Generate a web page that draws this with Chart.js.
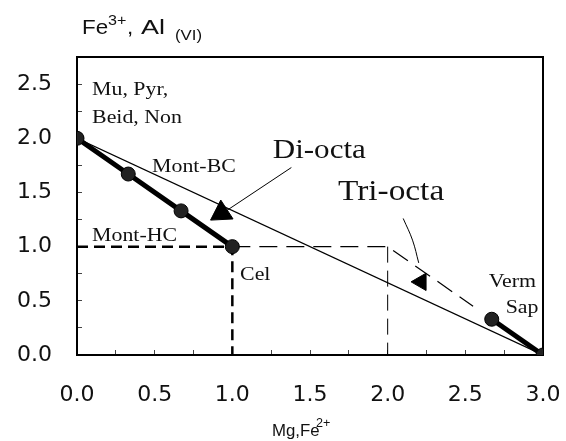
<!DOCTYPE html>
<html>
<head>
<meta charset="utf-8">
<script src="https://cdn.jsdelivr.net/npm/chart.js@4"></script>
<style>
  body { margin: 0; background: #fff; }
  canvas { display: block; }
</style>
</head>
<body>
<canvas id="chart" width="566" height="441"></canvas>
<script>
// dioctahedral series (thick line with dots)
const diX = [0.0, 0.33, 0.67, 1.0];
const diY = [2.0, 1.67, 1.33, 1.0];
// trioctahedral end (Verm, Sap)
const triX = [2.67, 3.0];
const triY = [0.33, 0.0];
// thin ideal line
const idealX = [0.0, 3.0];
const idealY = [2.0, 0.0];
// thick dashed Mont-HC / Cel guide
const hcX = [0.0, 1.0, 1.0];
const hcY = [1.0, 1.0, 0.0];
// thin dashed trioctahedral path
const triPathX = [1.0, 2.0, 2.55];
const triPathY = [1.0, 1.0, 0.45];
const x2X = [2.0, 2.0];
const x2Y = [1.0, 0.0];
// arrows
const diArrowX = [1.38, 0.95];
const diArrowY = [1.73, 1.32];
const diHeadX = [0.93];
const diHeadY = [1.31];
const triArrowX = [2.10, 2.16, 2.20];
const triArrowY = [1.26, 1.06, 0.85];
const triHeadX = [2.215];
const triHeadY = [0.675];
// tick labels
const xTickValues = [0.0, 0.5, 1.0, 1.5, 2.0, 2.5, 3.0];
const yTickValues = [0.0, 0.5, 1.0, 1.5, 2.0, 2.5];

function pts(xs, ys) {
  return xs.map((x, i) => ({ x: x, y: ys[i] }));
}

// kleine Striche alle 0.25
function minorTicks(max) {
  const t = [];
  for (let v = 0; v <= max + 1e-9; v += 0.25) t.push({ value: Math.round(v * 100) / 100 });
  return t;
}

function tickLabel(values) {
  return function (v) {
    return values.some(t => Math.abs(t - v) < 1e-6) ? v.toFixed(1) : '';
  };
}

const labels = [
  { text: 'Mu, Pyr,', x: 0.097, y: 2.40, size: 19 },
  { text: 'Beid, Non', x: 0.097, y: 2.14, size: 19 },
  { text: 'Mont-BC', x: 0.483, y: 1.69, size: 19 },
  { text: 'Mont-HC', x: 0.097, y: 1.05, size: 19 },
  { text: 'Cel', x: 1.05, y: 0.69, size: 19 },
  { text: 'Di-octa', x: 1.26, y: 1.82, size: 27 },
  { text: 'Tri-octa', x: 1.68, y: 1.43, size: 29 },
  { text: 'Verm', x: 2.65, y: 0.63, size: 19 },
  { text: 'Sap', x: 2.76, y: 0.39, size: 19 },
];

function stretchText(ctx, text, x, y, sx) {
  ctx.save();
  ctx.translate(x, y);
  ctx.scale(sx, 1);
  ctx.fillText(text, 0, 0);
  ctx.restore();
}

const framePlugin = {
  id: 'frame',
  beforeDatasetsDraw(chart) {
    const a = chart.chartArea;
    const ctx = chart.ctx;
    ctx.save();
    ctx.strokeStyle = '#000';
    ctx.lineWidth = 2;
    ctx.strokeRect(a.left, a.top, a.right - a.left, a.bottom - a.top);
    ctx.restore();
  },
  afterDraw(chart) {
    const ctx = chart.ctx;
    const xs = chart.scales.x;
    const ys = chart.scales.y;
    const a = chart.chartArea;
    ctx.save();
    ctx.fillStyle = '#111';
    ctx.textBaseline = 'alphabetic';
    ctx.textAlign = 'left';
    labels.forEach(l => {
      ctx.font = l.size + 'px "Liberation Serif"';
      stretchText(ctx, l.text, xs.getPixelForValue(l.x), ys.getPixelForValue(l.y), 1.15);
    });

    // Achsentitel oben (Scan ist breit gezogen)
    const big = '20px "Liberation Sans"';
    const small = '14px "Liberation Sans"';
    const base = a.top - 23;
    ctx.font = big;
    stretchText(ctx, 'Fe', a.left + 5, base, 1.12);
    ctx.font = small;
    stretchText(ctx, '3+', a.left + 31, base - 9, 1.15);
    ctx.font = big;
    stretchText(ctx, ',', a.left + 50, base, 1.12);
    stretchText(ctx, 'Al', a.left + 64, base, 1.35);
    ctx.font = small;
    stretchText(ctx, '(VI)', a.left + 98, base + 6, 1.2);

    // Achsentitel unten
    const x0 = xs.getPixelForValue(1.5) - 38;
    const yb = chart.height - 5;
    ctx.font = '16px "Liberation Sans"';
    stretchText(ctx, 'Mg,Fe', x0, yb, 1.05);
    ctx.font = '12px "Liberation Sans"';
    stretchText(ctx, '2+', x0 + 44, yb - 9, 1.05);
    ctx.restore();
  }
};

const dot = {
  borderColor: '#000',
  backgroundColor: '#111',
  borderWidth: 5,
  pointRadius: 7,
  pointBorderWidth: 1,
  pointBackgroundColor: '#222',
  pointBorderColor: '#000',
  showLine: true,
};

const plain = {
  borderColor: '#000',
  backgroundColor: '#000',
  pointRadius: 0,
  showLine: true,
};

new Chart(document.getElementById('chart').getContext('2d'), {
  type: 'scatter',
  data: {
    datasets: [
      Object.assign({ data: pts(diX, diY), order: 1 }, dot),
      Object.assign({ data: pts(triX, triY), order: 1 }, dot),
      Object.assign({ data: pts(diHeadX, diHeadY), order: 2 }, plain, {
        showLine: false, pointStyle: 'triangle', pointRadius: 13, pointRotation: 237,
      }),
      Object.assign({ data: pts(triHeadX, triHeadY), order: 2 }, plain, {
        showLine: false, pointStyle: 'triangle', pointRadius: 10, pointRotation: 270,
      }),
      Object.assign({ data: pts(idealX, idealY), order: 3, borderWidth: 1.2 }, plain),
      Object.assign({ data: pts(hcX, hcY), order: 3, borderWidth: 2.5, borderDash: [11, 6] }, plain),
      Object.assign({ data: pts(triPathX, triPathY), order: 3, borderWidth: 1.2, borderDash: [18, 9] }, plain),
      Object.assign({ data: pts(x2X, x2Y), order: 3, borderWidth: 1, borderDash: [16, 8] }, plain),
      Object.assign({ data: pts(diArrowX, diArrowY), order: 3, borderWidth: 1 }, plain),
      Object.assign({ data: pts(triArrowX, triArrowY), order: 3, borderWidth: 1, tension: 0.4 }, plain),
    ],
  },
  options: {
    responsive: false,
    animation: false,
    layout: { padding: { top: 57, right: 23, left: 0, bottom: 0 } },
    plugins: {
      legend: { display: false },
      tooltip: { enabled: false },
    },
    scales: {
      x: {
        type: 'linear',
        min: 0,
        max: 3,
        afterBuildTicks: s => { s.ticks = minorTicks(3); },
        afterFit: s => { s.height = 86; s.paddingLeft = 0; s.paddingRight = 0; },
        border: { display: false },
        grid: { drawOnChartArea: false, tickLength: -5, color: '#444' },
        ticks: {
          autoSkip: false,
          maxRotation: 0,
          padding: 32,
          color: '#111',
          font: { family: 'DejaVu Sans', size: 22 },
          callback: tickLabel(xTickValues),
        },
      },
      y: {
        type: 'linear',
        min: 0,
        max: 2.75,
        afterBuildTicks: s => { s.ticks = minorTicks(2.5); },
        afterFit: s => { s.width = 77; s.paddingTop = 0; s.paddingBottom = 0; },
        border: { display: false },
        grid: { drawOnChartArea: false, tickLength: -5, color: '#444' },
        ticks: {
          autoSkip: false,
          padding: 30,
          color: '#111',
          font: { family: 'DejaVu Sans', size: 22 },
          callback: tickLabel(yTickValues),
        },
      },
    },
  },
  plugins: [framePlugin],
});
</script>
</body>
</html>
